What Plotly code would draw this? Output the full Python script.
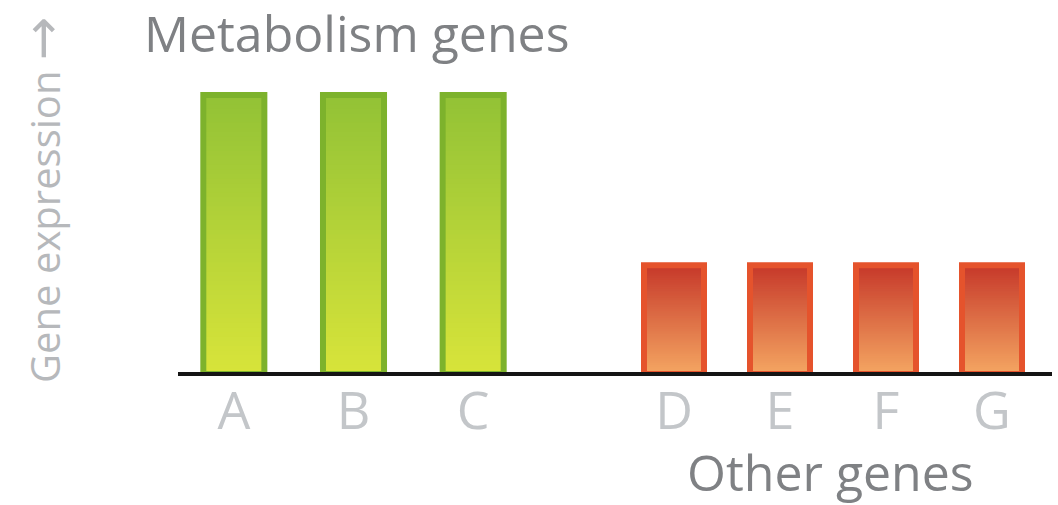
import plotly.graph_objects as go

# Expression levels per gene, split into the two gene groups
metabolism_genes = ["A", "B", "C"]
metabolism_expression = [10, 10, 10]
other_genes = ["D", "E", "F", "G"]
other_expression = [3.9, 3.9, 3.9, 3.9]

W, H = 1058, 505
FONT = "Open Sans"
BASE_Y = (H - 374) / H  # paper height of the zero line


def mix(c0, c1, t):
    return "rgb(%d,%d,%d)" % tuple(round(a + (b - a) * t) for a, b in zip(c0, c1))


def gradient_bars(x, values, bottom, top, edge, width, axis, steps=60):
    """Vertical colour gradient built from layered bars, each starting a bit higher."""
    traces = []
    for i in range(steps):
        frac = i / steps
        base = [v * frac for v in values]
        height = [v - b for v, b in zip(values, base)]
        traces.append(go.Bar(
            x=x, y=height, base=base, width=width,
            marker=dict(color=mix(bottom, top, (i + 0.5) / steps), line_width=0),
            xaxis=axis, yaxis="y", hoverinfo="skip", showlegend=False,
        ))
    traces.append(go.Bar(
        x=x, y=values, width=width,
        marker=dict(color="rgba(0,0,0,0)", line=dict(color=edge, width=6)),
        xaxis=axis, yaxis="y", showlegend=False,
    ))
    return traces


fig = go.Figure()
for t in gradient_bars(metabolism_genes, metabolism_expression,
                       (216, 228, 58), (146, 194, 54), "#7db22c", 0.51, "x"):
    fig.add_trace(t)
for t in gradient_bars(other_genes, other_expression,
                       (244, 166, 98), (198, 56, 42), "#e5532c", 0.566, "x2"):
    fig.add_trace(t)

tick_font = dict(family=FONT, size=52, color="#c3c6c9")
axis_common = dict(showgrid=False, zeroline=False, showline=False, ticks="",
                   ticklabelstandoff=2, tickfont=tick_font,
                   anchor="y", fixedrange=True)

fig.update_layout(
    width=W, height=H,
    margin=dict(l=0, r=0, t=0, b=0),
    paper_bgcolor="white", plot_bgcolor="white",
    barmode="overlay",
    showlegend=False,
    xaxis=dict(domain=[174 / W, 533 / W], range=[-0.5, 2.5], **axis_common),
    xaxis2=dict(domain=[621 / W, 1045 / W], range=[-0.5, 3.5], **axis_common),
    yaxis=dict(domain=[BASE_Y, 1], range=[0, 13.4], visible=False, fixedrange=True),
    shapes=[dict(type="line", xref="paper", yref="paper", x0=178 / W, x1=1052 / W,
                 y0=BASE_Y, y1=BASE_Y, line=dict(color="#151515", width=4))],
    annotations=[
        dict(text="Metabolism genes", xref="paper", yref="paper",
             x=356 / W, y=1 - 33 / H, xanchor="center", yanchor="middle",
             showarrow=False, font=dict(family=FONT, size=50, color="#7f8184")),
        dict(text="Other genes", xref="paper", yref="paper",
             x=830 / W, y=1 - 472 / H, xanchor="center", yanchor="middle",
             showarrow=False, font=dict(family=FONT, size=50, color="#7f8184")),
        dict(text="Gene expression <span style=\"font-family:'DejaVu Sans';font-size:52px\">→</span>",
             xref="paper", yref="paper",
             x=42 / W, y=1 - 200 / H, xanchor="center", yanchor="middle",
             textangle=-90, showarrow=False,
             font=dict(family=FONT, size=40, color="#b6b8bb")),
    ],
)

fig.write_html("out.html")
